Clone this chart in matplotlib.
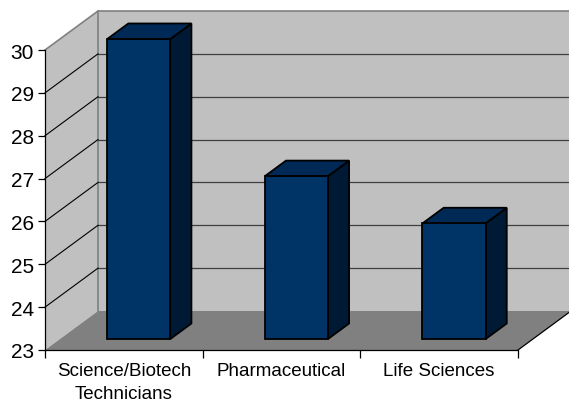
import numpy as np
import matplotlib.pyplot as plt
from matplotlib.patches import Polygon

#%% data
categories = ['Science/Biotech\nTechnicians', 'Pharmaceutical', 'Life Sciences']
values = [30.0, 26.8, 25.7]
y_ticks = [23, 24, 25, 26, 27, 28, 29, 30]

plt.rcParams['font.family'] = ['Liberation Sans', 'DejaVu Sans']

#%% fake 3d box (excel style)
ymin, ymax = y_ticks[0], y_ticks[-1]
n = len(categories)
dx = 53 / 473 * n          # depth offset in data units
dy = 39 / 300 * (ymax - ymin)

fig = plt.figure(figsize=(5.69, 4.02), dpi=100)
ax = fig.add_axes([45/569, 51/402, 473/569, 300/402])
ax.set_xlim(0, n)
ax.set_ylim(ymin, ymax)

wall = '#c0c0c0'
ax.add_patch(Polygon([(0, ymin), (dx, ymin+dy), (dx, ymax+dy), (0, ymax)],
                     fc=wall, ec='none', clip_on=False, zorder=0.5))
ax.add_patch(Polygon([(dx, ymin+dy), (n+dx, ymin+dy), (n+dx, ymax+dy), (dx, ymax+dy)],
                     fc=wall, ec='none', clip_on=False, zorder=0.5))
ax.add_patch(Polygon([(0, ymin), (n, ymin), (n+dx, ymin+dy), (dx, ymin+dy)],
                     fc='#808080', ec='none', clip_on=False, zorder=0.6))

# wall borders
ax.plot([0, dx, n+dx], [ymax, ymax+dy, ymax+dy], color='#808080', lw=1.2, clip_on=False, zorder=0.7)
ax.plot([dx, dx], [ymin+dy, ymax+dy], color='#808080', lw=1.2, clip_on=False, zorder=0.7)
ax.plot([n, n+dx], [ymin, ymin+dy], color='black', lw=0.9, clip_on=False, zorder=0.7)

# gridlines
for v in y_ticks[1:-1]:
    ax.plot([dx, n+dx], [v+dy, v+dy], color='#404040', lw=0.9, clip_on=False, zorder=0.7)
    ax.plot([0, dx], [v, v+dy], color='black', lw=0.8, clip_on=False, zorder=0.7)

#%% bars
d0, d1, w = 0.28, 0.68, 0.4
ddx, ddy = (d1-d0)*dx, (d1-d0)*dy
for i, v in enumerate(values):
    xc = i + 0.5 + d0*dx
    xl, xr = xc - w/2, xc + w/2
    b, t = ymin + d0*dy, v + d0*dy
    kw = dict(ec='black', lw=1.3, joinstyle='miter', clip_on=False, zorder=2)
    ax.add_patch(Polygon([(xr, b), (xr+ddx, b+ddy), (xr+ddx, t+ddy), (xr, t)], fc='#001a35', **kw))
    ax.add_patch(Polygon([(xl, t), (xr, t), (xr+ddx, t+ddy), (xl+ddx, t+ddy)], fc='#002a55', **kw))
    ax.add_patch(Polygon([(xl, b), (xr, b), (xr, t), (xl, t)], fc='#003366', **kw))

#%% axes / ticks
for s in ['top', 'right']:
    ax.spines[s].set_visible(False)
for s in ['left', 'bottom']:
    ax.spines[s].set_color('black')
    ax.spines[s].set_linewidth(0.9)

ax.set_yticks(y_ticks)
ax.tick_params(axis='y', length=5, width=0.9, labelsize=15, pad=3)
ax.set_xticks(np.arange(n) + 0.5)
ax.set_xticklabels(categories, fontsize=13.5, linespacing=1.4)
ax.set_xticks(np.arange(n+1), minor=True)
ax.tick_params(axis='x', which='major', length=0, pad=9)
ax.tick_params(axis='x', which='minor', length=6, width=0.9)

fig.savefig('out.png', dpi=100)
